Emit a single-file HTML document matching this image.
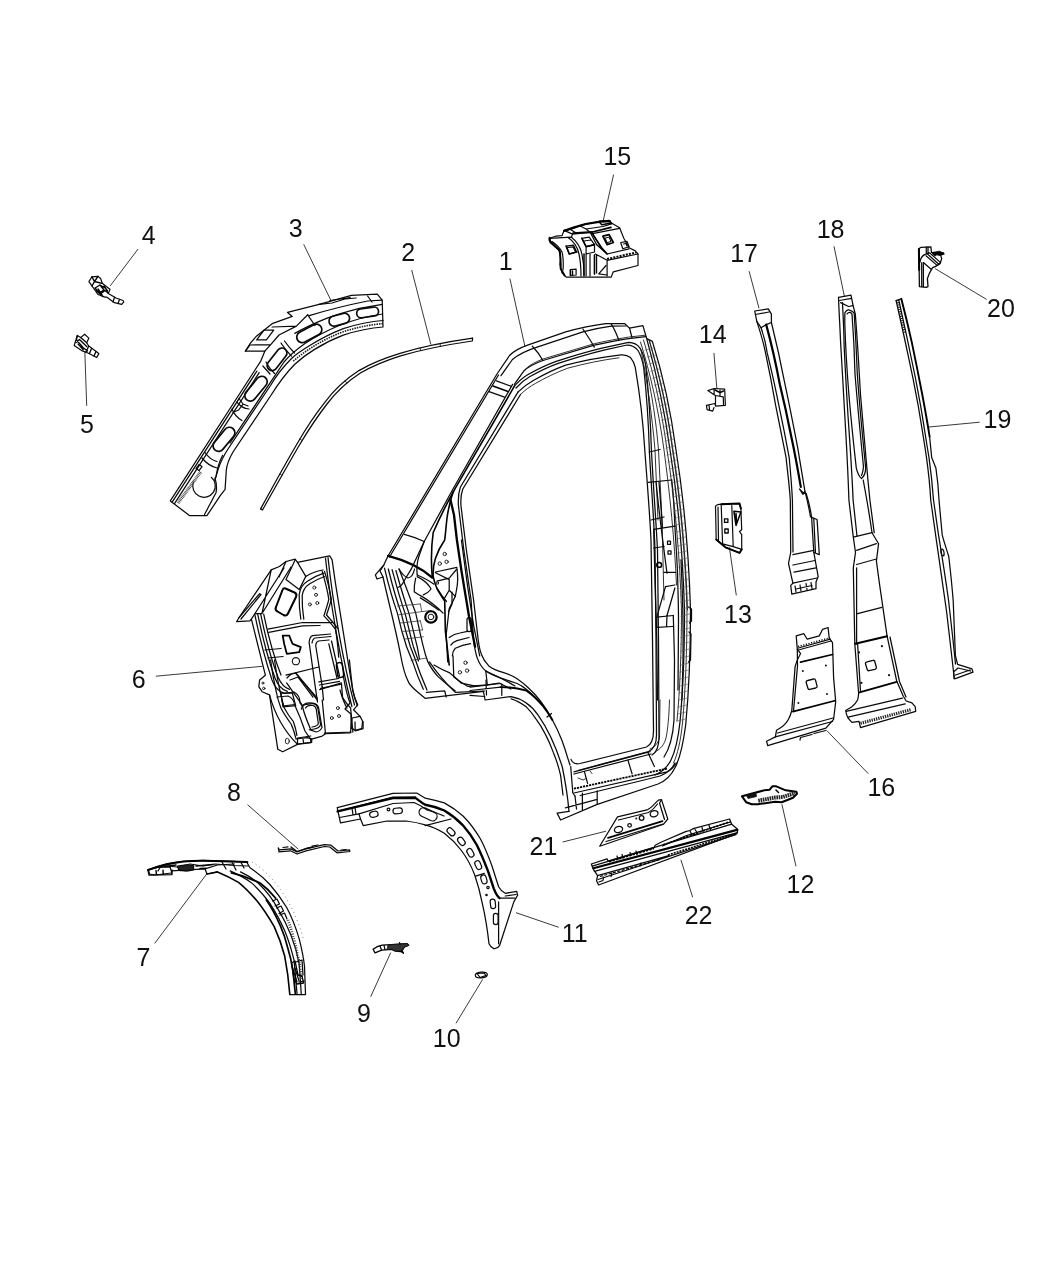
<!DOCTYPE html>
<html><head><meta charset="utf-8">
<style>
html,body{margin:0;padding:0;background:#fff;}
body{width:1050px;height:1275px;overflow:hidden;font-family:"Liberation Sans",sans-serif;}
svg{display:block;will-change:transform;}
.l{stroke:#0a0a0a;stroke-width:1.25;fill:none;stroke-linecap:round;stroke-linejoin:round;}
.t{stroke:#1a1a1a;stroke-width:0.9;fill:none;stroke-linecap:round;stroke-linejoin:round;}
.k{stroke:#000;stroke-width:1.6;fill:none;stroke-linecap:round;stroke-linejoin:round;}
.ld{stroke:#222;stroke-width:0.9;fill:none;}
text{font-family:"Liberation Sans",sans-serif;font-size:25px;fill:#111;text-anchor:middle;}
</style></head><body>
<svg width="1050" height="1275" viewBox="0 0 1050 1275">
<rect width="1050" height="1275" fill="#fff"/>
<!--LABELS-->
<g id="labels">
<text x="505.6" y="270">1</text>
<text x="408.1" y="261.4">2</text>
<text x="295.6" y="237">3</text>
<text x="148.8" y="243.5">4</text>
<text x="87" y="432.6">5</text>
<text x="138.6" y="687.7">6</text>
<text x="143.5" y="966">7</text>
<text x="233.9" y="801.3">8</text>
<text x="364" y="1021.7">9</text>
<text x="446.7" y="1047">10</text>
<text x="574.7" y="941.7">11</text>
<text x="800.5" y="893">12</text>
<text x="738" y="623.3">13</text>
<text x="712.7" y="342.5">14</text>
<text x="617.3" y="165">15</text>
<text x="881.3" y="796.4">16</text>
<text x="744.1" y="261.6">17</text>
<text x="830.6" y="238.1">18</text>
<text x="997.5" y="428.4">19</text>
<text x="1001" y="317">20</text>
<text x="543.5" y="855">21</text>
<text x="698.6" y="924">22</text>
</g>
<!--LEADERS-->
<g id="leaders" class="ld">
<path d="M509.9,278.6L524.9,346.3"/>
<path d="M411.7,270L430.9,344.6"/>
<path d="M303.7,244.3L330.7,300"/>
<path d="M138.1,249L110.2,285.9"/>
<path d="M84.8,351L86.7,405.8"/>
<path d="M155.9,676.2L262.4,666.3"/>
<path d="M154.7,943.4L206.7,874"/>
<path d="M247.5,804.7L298.3,849.2"/>
<path d="M390.7,952.7L370.7,996.7"/>
<path d="M482.7,979.3L456,1023.3"/>
<path d="M516,912.7L558.7,927.3"/>
<path d="M781.9,804.3L796,866.3"/>
<path d="M729.4,547.4L736.3,595.4"/>
<path d="M713.9,352.9L716.9,388.8"/>
<path d="M613.6,174.6L603,221.6"/>
<path d="M827.1,730.9L868.3,773.7"/>
<path d="M749.1,271.2L759,308.3"/>
<path d="M834,246.3L844.3,296"/>
<path d="M979.7,422.2L929,427"/>
<path d="M935.1,268.6L986.6,299.4"/>
<path d="M562.7,842L606,831.2"/>
<path d="M680.9,859.8L692.7,897.3"/>
</g>
<!--P1-->
<g id="p1">
<!-- outer silhouette -->
<path class="l" d="M388,556 L497,374 L509.5,355.5 C515,350 521,347.5 527.6,345.2 L565.7,331.9 C580,328 592,325.5 605.7,323.7 L624.8,323.7 L629.5,328.1 L642.9,325.6 L646.7,338.6 L652.4,341.4 C662,372 670,405 676,450 C684,500 689,560 690.5,610 C690.5,650 689,690 685.7,725 C683,745 680,758 675.4,767 C671,776 666,781 658,784 L596.6,804.6 L560.6,820 L557.1,813.1 L569,811.4"/>
<path class="l" d="M388,556 L384,564.6 L375.4,574.9 L377,579 L383,577 C388,600 396,630 401,657 C403,668 405,675 408,681 C410,687 418,692 425,698.3 L483.4,691.4 L485.1,700 L511,696.6 C524,699 532,706 538.3,715.4 C550,732 557,750 562.3,767 C566,785 568,800 569,811.4"/>
<!-- A pillar -->
<path class="l" d="M498.5,375 L389.5,557"/>
<path class="l" d="M512.6,384.4 L453,489 L424.2,541.5 L411.5,568.6"/>
<path class="k" d="M514.4,386.2 L454.8,489.1 C447,503 440,517 433.2,532.5 C431,548 431,563 432.3,577.6"/>
<path class="k" d="M388.1,555.9 C404,560 420,567 432.3,577.6" style="stroke-width:2.300"/>
<path class="l" d="M404.3,534.3 C411,536 418,538.5 424.2,541.5"/>
<path class="l" d="M489.1,391.7 L504.5,397.1 M496.4,380.8 L510.8,386.2"/>
<path class="k" d="M493,386 L508,391.5"/>
<!-- roof rail -->
<path class="l" d="M501,375.7 L512.4,359.5 C520,353 528,350 537.1,347.1 L582.9,331.9 C592,329.5 602,327.5 611.4,326.2 L626,326"/>
<path class="l" d="M514.3,384.3 L523.8,371 C529,366 536,363 542.9,360.5 L594.3,345.2 C606,342.5 617,340.5 628.6,338.6 L645.7,336.7"/>
<path class="t" d="M516,382 L525,369.5 C530,364.5 536.5,361.5 543,359 L594.3,343.7 C606,341 617,339 628.6,337.1 L645.5,335.2"/>
<path class="l" d="M532.4,346.2 C536,350 540,355 542.9,360.5 M582.9,329 C587,335 591,341 594.3,347.1 M611.4,324.3 C614.5,329 617,335 619,340.5"/>
<path class="l" d="M629.5,328.1 L632,337.5"/>
<!-- door opening seals -->
<path class="l" d="M514.3,386.2 C519,381 523,377.5 527.6,374.8 C537,369.5 546,365 556.2,361.4 C571,356.5 586,352 601.9,348.1 L628.6,342.4 C634,342.5 637.5,344.5 640,348.1 C643,353 644.5,358 645.7,365.2 C649,395 650.5,420 651.4,450 C653.5,490 656,520 657.5,550 L658.5,640 L659,737 C659,747 657,752 652,755"/>
<path class="l" d="M516,388 C520.5,383 525,379.5 529.6,376.8 C539,371.5 548,367 558.2,363.4 C573,358.5 588,354 603.9,350.1 L627,345 C632,345 635.5,347 638,350.5 C641,355.5 642.5,360.5 643.7,367.7 C647,397 648.5,422 649.4,452 C651.5,490 654,520 655,550 L656,640 L656.5,735 C656.5,744 654,749 648.5,751.5 L578,770.5"/>
<path class="l" d="M518.1,391.9 C523,387 528,383.5 533.3,380.5 C543,375 554,369.5 565.7,365.2 C583,360.5 602,357 621,354.8 C625,354.5 628,355.5 630.5,357.6 C633,360.5 634.5,363.5 635.2,367.1 C640,395 643,420 644.8,450 C647,480 649.5,510 651,540 L652.5,640 L653.5,731 C653.5,740 651.5,744.5 646.5,747 L580,763.5 C575,764.5 572.5,763 571,759.5"/>
<path class="t" d="M520.5,394.5 C525,390 530,386.5 535.3,383.5 C545,378 556,372.5 567.7,368.2 C585,363.5 602,360 619,357.8"/>
<!-- window inner left -->
<path class="l" d="M518.1,391.9 L460.3,487.3 C458.5,493 458,499 458.4,505.4 L463.9,550.5 L471.1,600 L473.5,640 C474.5,647 475.5,653 477.1,657.6 C479,663 482,667.5 485.3,670.6 C489.5,674 494.5,676 499.4,677.6 C505,679.5 511,681.5 517.1,683.5 C520.5,685 523.5,687 526.5,689.4 C531.5,693.5 537,699.5 542.9,705.9"/>
<path class="l" d="M520.5,394.5 L462.8,489 C461,494 460.5,500 461,506 L466.5,551 L473.6,600 L478.2,640 C479,646 480,651 481.8,655.3 C483.5,660 486,663 488.8,665.9 C493,669 498,671 502.9,672.4 C508,674 513,676 517.1,678.8 C521,681.5 525,684.5 528.8,688.2 C533,692 537,696.5 540.6,701.2 C545,707 549,713.5 552.4,720 C556,726.5 559,733 561.8,740 C564,746 566,752 567.6,757.6 L570,765"/>
<!-- B pillar lines -->
<path class="l" d="M646.7,338.6 C656,372 664,405 670,450 C678,500 683,560 684.5,610 C684.5,650 683,690 680,722 C678,740 675,752 671,760 C667,768 662,772 655,775"/>
<path class="t" d="M649,340 C658.500,372 666.500,405 672.500,450 C680.500,500 685.500,560 687,610 C687,650 685.500,690 682.500,723 C680.500,742 677.500,754.500 673.500,763"/>
<path class="t" d="M645.700,365.200 C652,395 656,420 658.500,450 L662,520 L664,600"/>
<path class="t" d="M641,350 C647,380 652,415 655,450 L658,520"/>
<path class="l" d="M649.400,452 L660,449.500 M651,520 L664,517"/>
<!-- sill -->
<path class="l" d="M570.700,766.500 L572.800,793 L575,796 M573.900,771.800 L650.100,751.700 M573.900,774 L651,754"/>
<path class="k" d="M573.900,788.700 L600,783 L667.100,768.600" stroke-dasharray="2.200 0.900" style="stroke-linecap:butt;stroke-width:1.800"/>
<path class="l" d="M573.900,793 L667.100,771.800 C671,770 674,767 676.500,763"/>
<path class="l" d="M565.400,807.800 L597.200,799.300 M582.400,793 L582.400,809.900 M597.200,790.800 L597.200,803.500 M575,796 L576.500,809"/>
<path class="l" d="M584.500,771.800 L587.600,783.400 M627.900,760.100 L632.100,773.900 M648,752.700 L654.400,766.500"/>
<path class="l" d="M580.200,795.500 L640,781 L660,776 C667,773.500 672,769 675,763"/>
<path class="t" d="M578,778 L583,780 L586,778.500 M590,771 L592,773.500 M650,749 C655,747 658,743 659.500,738 L660,700"/>
<path class="t" d="M655,752 C661,749 664.500,744 666,738 C668,728 669,716 669.500,700"/>
<!-- hinge pillar detail -->
<g class="l">
<path d="M384.5,568.2 C388,583 392,598 397.4,613.1 C400,625 403,636 406.6,646.7 L412.7,661.9 C416,672 419.5,681 423.3,689.3"/>
<path d="M388.3,569 C392,584 396,599 401.2,613.1 C404,625 407,636 410.4,646.7 L415.500,660 C419,671 423,681 427,690"/>
<path d="M392.1,569.7 C396,584 400,599 405,613.1 C408,625 410.500,636 413.4,646.7 L418.500,661"/>
<path d="M395.9,570.5 C400,585 404,599 408.9,613.1 C412,625 414.500,636 417.2,646.7 L419.500,659"/>
<path d="M399,569 C405,584 410.500,599 415.7,613.1 C418.500,625 420.500,636 423.3,646.7 C424.500,652 426,657 427.9,661.9 C431,668 434.500,673 438.6,677.1 C444,682 449.500,686.500 455.3,690.9"/>
<path stroke-width="0.800" stroke="#333" d="M397.500,606 L420.300,604 M399,614.700 L421.800,611.600 M400.500,623 L420.300,620.800 M402.800,631.400 L422.600,629.900 M405,639 L423.300,636.800 M411.100,660.400 L426.400,658.100"/>
<path stroke-width="0.800" stroke="#333" d="M420.300,604 L421.800,611.600 L431,610.500 M420.300,620.800 L422.600,629.900"/>
<path d="M399,569 C402,574 405,577 408,578 C411.500,577.500 413.500,574 414.500,569"/>
<path d="M417.200,575 C423,577.500 429,580.500 434,584.200 M415.700,578.100 C414.500,583 414,587.500 414.200,591.800 C416.500,593.500 419,595 421.800,596.400 C429.500,601 436.500,606.500 443.100,613.100"/>
<path d="M420.300,597.900 C426.500,601.500 432.500,605.500 438.600,610.100 M417.200,576.600 C423,579.500 428,583.500 431,588.800 C429.500,591.500 426.500,593.500 423.300,594.900"/>
<path d="M424.200,541.500 L419,556 C417,562 416.500,569 417.200,575 M411.500,568.600 L404,581 C402.500,584.500 400.500,586.500 398,587.500"/>
<path d="M435.500,572 L456.900,567.400 M437,581.100 L449.200,578.100 L456.900,569 M449.200,579.600 L449.200,590.300 L444.700,597.900 M435.500,572.800 L449.200,579.600 M449.200,590.300 L455.300,596.400 L449.200,608.600 L446.200,634.500 L447.700,661.900"/>
<path d="M452,592 L452,604 L448.500,612 M457,569 C458,576 458,583 456.500,590 L455.300,596.400"/>
<path d="M449.200,637.500 C452.500,635 456,633.500 459.900,633 L467.500,631.400 M450.800,645.100 C452.500,642.500 454.500,641.500 456.900,640.600 L469,637.500 M452.300,655.800 C452.500,652.500 453.500,650 455.300,648.200 C460,646 465,644.500 470.600,643.600"/>
<path d="M453,655.800 L453.800,677.100 C458,680.500 462.500,683.500 467.500,686.300 L487.300,684.800 L485.800,671"/>
<path d="M429.400,661.900 C437,673 446,683.500 455.300,692.400 L484.300,691 M434,665 C439,668 444,670.500 449.200,672.600 C453.500,676 457.500,679.500 461.400,683.200 L476.700,686.300"/>
<path d="M426.400,692.400 L444.700,690.900 L446.200,697"/>
<path d="M461.400,540 L467.500,585.700 L473.600,625.300 L479.700,655.800"/>
<rect x="467" y="617.500" width="4.300" height="14" rx="2"/>
<path d="M383,577 L380,571 L384,565"/>
<path d="M437,588 C440,593 443,597.500 446.500,601.500"/>
<path d="M485.800,671 C495,675 505,680 515,686 M487.300,684.800 L499,683 L510.900,689"/>
</g>
<g class="k">
<path d="M453.500,491 C450.500,499 448.500,508 447,518 C446,527 445.500,534 444.700,540 C440.500,546 437.500,552 435.500,558.300 C433.500,564.500 432.800,570.500 433.200,576.600 C434,581 435.500,585 437,588.800 C439.500,593 442,597 444.700,601 L445.400,631.400 L449.200,665"/>
<path d="M450.500,500 L454,515 L456.900,540 L461.400,570.500 L469,616.200 L475.100,646.700" stroke-width="2.300"/>
<circle cx="430.950" cy="616.950" r="5.700" stroke-width="2.200"/>
<path d="M500.6,687.1 C509,687 518,688 526.5,690.6 C533,695 538.5,700.5 542.9,705.9 C546.5,710.5 549.5,715 552.4,720" stroke-width="1.900"/>
</g>
<g class="t" style="stroke:#111">
<circle cx="430.950" cy="616.950" r="2.800" stroke-width="1"/>
<circle cx="444.700" cy="554" r="1.700"/><circle cx="439.800" cy="563.600" r="1.700"/><circle cx="446.600" cy="561.800" r="1.700"/>
<circle cx="465.500" cy="662.700" r="1.700"/><circle cx="459.900" cy="672.300" r="1.700"/><circle cx="467.100" cy="670.600" r="1.700"/>
<rect x="436.500" y="582" width="2" height="2"/>
</g>

<!-- B pillar detail -->
<g class="l">
<path d="M648.2,482.300 L671.700,480 M653.700,529.300 L674.900,526.200 M653.700,548 L664,546.500 M663.900,572.400 L675.600,572.400 M665.500,586.600 L674.900,585"/>
<path d="M656,482.300 C659,512 663,543 667,573.200 M659,482 L662.500,527.500"/>
<path d="M665.500,586.600 L656.800,617.100 M674.900,588 L667,615.500 M656.800,617.100 L673.300,615.500 M656.800,617.100 L656.800,627.300 L672.500,626.500 M667,615.500 L666.500,627"/>
<path d="M653.700,529.300 L655,580 L656.800,640 L657.500,700"/>
<path d="M674.900,526.200 C676,545 677,560 677.500,572.400 C678,590 678.500,605 678.500,620 L678,690"/>
<path d="M681,560 C682.500,590 683.500,625 683,660 L682,700"/>
<rect x="667.500" y="541" width="3" height="3.400"/><rect x="668" y="550.800" width="3" height="3.400"/>
<path d="M671.700,480 C673,490 674,505 674.900,526.200"/>
<path d="M673.300,615.500 L674.500,660 L674,720 C673,735 670,748 664,757"/>
<path d="M688.500,607 L691.500,609 L691.500,621 L689.500,623 M689,632 L691,634 L690.500,660 L688.500,662"/>
</g>
<circle class="k" cx="659.200" cy="564.900" r="2.400"/>
<g class="t">
<path d="M649.500,341 C659,373 667,406 673,450 C681,500 686,560 687.500,610"/>
<path d="M643.500,340 C653,372 661,405 667,450 C675,500 680,560 681.500,610 C681.500,650 680,690 677,721"/>
<path d="M640.500,342 C650,373 658,406 664,450 C670,495 674.500,540 676.500,585"/>
<path stroke="#555" stroke-width="0.6" d="M644.9,350.2 L653.6,348.0 M647.1,357.2 L655.8,355.0 M649.0,364.2 L657.7,362.0 M650.8,371.2 L659.5,369.0 M652.6,378.2 L661.3,376.0 M654.4,385.2 L663.1,383.0 M656.0,392.2 L664.8,390.0 M657.5,399.2 L666.2,397.0 M659.0,406.2 L667.7,404.0 M660.4,413.2 L669.1,411.0 M661.6,420.2 L670.3,418.0 M662.9,427.2 L671.6,425.0 M663.9,434.2 L672.6,432.0 M665.0,441.2 L673.7,439.0 M666.0,448.2 L674.7,446.0 M667.0,455.2 L675.7,453.0 M668.1,462.2 L676.8,460.0 M669.0,469.2 L677.7,467.0 M670.1,476.2 L678.8,474.0 M670.9,483.2 L679.6,481.0 M671.7,490.2 L680.4,488.0 M672.7,497.2 L681.4,495.0 M673.4,504.2 L682.1,502.0 M674.1,511.2 L682.8,509.0 M675.0,518.2 L683.7,516.0 M675.6,525.2 L684.3,523.0 M676.2,532.2 L684.9,530.0 M676.8,539.2 L685.5,537.0 M677.3,546.2 L686.0,544.0 M677.9,553.2 L686.6,551.0 M678.4,560.2 L687.1,558.0 M678.8,567.2 L687.5,565.0 M679.3,574.2 L688.0,572.0 M679.7,581.2 L688.4,579.0 M680.0,588.2 L688.7,586.0 M680.4,595.2 L689.1,593.0 M680.6,602.2 L689.3,600.0 M680.9,609.2 L689.6,607.0 M681.0,616.2 L689.7,614.0 M681.0,623.2 L689.7,621.0 M680.9,630.2 L689.6,628.0 M680.8,637.2 L689.5,635.0 M680.7,644.2 L689.4,642.0 M680.5,651.2 L689.2,649.0 M680.3,658.2 L689.0,656.0 M680.1,665.2 L688.8,663.0 M679.8,672.2 L688.5,670.0 M679.5,679.2 L688.2,677.0 M679.1,686.2 L687.8,684.0 M678.8,693.2 L687.5,691.0 M678.3,700.2 L687.0,698.0 M677.9,707.2 L686.6,705.0 M677.3,714.2 L686.0,712.0 M676.8,721.2 L685.5,719.0"/>
</g>
<g class="l">
<path d="M511.2,698.8 C517,700.5 522,703.5 526.5,707.1 C530,710.5 533,714.5 535.9,718.8 C539.5,723.5 542.5,728.5 545.3,734.1 C548.5,740 551,746 553.5,752.9 C556.5,760 558.800,767.500 560.6,775.3 L563,795"/>
<path d="M470,687.100 L500.600,683.500 M470,690.500 L500.600,687.100 M470,695.300 L484.700,696.500 M486,680 L486.500,695 M501.800,684 L501.800,695.300"/>
<path d="M547,717 L551.500,713.500"/>
</g>
</g>
<!--P2-->
<g id="p2">
<path class="l" d="M472.600,338.200 C446,342 421,347 400,353.400 C385,358 371,363.500 358.900,370.600 C346,379 334,390 324.600,402.600 C314,416 305,430 297.100,443.700 C284,466 272,488 260.600,508.900"/>
<path class="l" d="M472.600,338.200 L472.300,341 C446,344.800 421,349.800 400.500,355.900 C386,360.500 372.500,366 360.400,373 C348,381 336.500,391.500 327,404 C316.500,417.500 307.500,431.500 299.300,445.200 C286.200,467.500 274,489.500 262.500,510 L260.600,508.900"/>
<path class="t" d="M440,344 L440.500,346.500 M420,348 L420.700,350.700 M345,381 L347,383 M300,439 L302,440.500 M280,474 L282,475.200"/>
</g>
<!--P3-->
<g id="p3">
<g class="l">
<!-- outline -->
<path d="M170.3,500.9 L255,370 L260.6,361.4 L264.8,351.2 L245.4,351.2 L251,342.3 L256.7,335.9 L272.1,323.7 L292.3,316.4 L287.5,312.4 L319.1,304.3 L351.4,295.4 L377.3,294.2 L382.2,300.2 L383,327 C369,328 356,331 343.3,335.1 C333,339 323,344 314.2,349.6 C307,354 300.500,359 294.8,364.2 C286,373 278,384 270.5,396 L233,452 C229.500,458 227,464 226.3,470 L225.1,489.4 L220.6,495.1 L206.9,515.7 L189.7,515.7 Z"/>
<!-- parallel left lines -->
<path d="M172.150,502.100 L256.850,371.200 M174.500,503.600 L259.200,372.700"/>
<!-- inner right lines -->
<path d="M383,320.500 C369,321.500 356,324.500 343.300,328.600 C332,333 321,338.500 311,344.800 C304,349 297.500,353 291.500,358.500 C283,367 276,376 270.500,385.500 L228,449 C223.500,456 220.500,462 218.300,468.900 L214.900,480.300"/>
<path d="M382.500,314 C368,316 353,320 338,326 C326,331 315,337 305,343.500 C297,349 290,355 284,362 L230,443"/>
<!-- top bands -->
<path d="M309.300,315.600 C329,309.500 348,305 367.600,301 L382.200,300.200 M294.800,333.400 C305,327.500 316,322.500 327.200,318.100 C338,314 349,311 359.500,308.300 L382.200,304.300"/>
<path d="M307.700,314.800 L296.400,326.100 L272.100,327 M245.400,351.200 L250,345 L270.500,344.800 L264.800,351.200 M270.500,344.800 L279,335 L296.400,326.100"/>
<path d="M264,330.200 L273.700,330.200 L266.400,339.900 L256.700,339.900 Z M262,332.500 L256.700,339.900"/>
<path d="M307.700,314.800 L315,325.500 M367.600,296 L372,302"/>
<path d="M319.100,304.300 L332,303 L345,299 L356,298 M330,300.500 L350,297.500"/>
<!-- web lines between slots -->
<path d="M281,343 C284,348 287.500,352 291.500,356.100 M284.500,341 C288,346 291,349.500 294.500,353 M262.900,366 L270,374 M266,362 C268,366 271,370 274.500,373.500"/>
</g>
<g class="l" style="stroke-width:1.700">
<rect x="356.600" y="307.900" width="22" height="9" rx="4.500" transform="rotate(-8 367.600 312.400)"/>
<rect x="328.800" y="314.700" width="21" height="10" rx="5" transform="rotate(-15 339.300 319.700)"/>
<rect x="295.800" y="327.900" width="27" height="11" rx="5.500" transform="rotate(-28 309.300 333.400)"/>
<rect x="264" y="354.300" width="26" height="10" rx="5" transform="rotate(-52 277 359.300)"/>
<rect x="241.500" y="383.200" width="29" height="11" rx="5.500" transform="rotate(-50.500 256 388.700)"/>
<rect x="210" y="433.800" width="28" height="11" rx="5.500" transform="rotate(-50.500 224 439.300)"/>
</g>
<g class="t">
<path d="M383,323.700 C369,324.700 356,327.700 343.300,331.700 C332,336 322,341 312.500,347 C305.500,351.500 299,356 293,361.500" stroke-dasharray="1.500 1" stroke-width="1.600" style="stroke-linecap:butt"/>
</g>

<g class="l">
<path d="M211.300,477.300 A11.300,11.300 0 1 1 193.400,482.100"/>
<path d="M214.900,478 C216.500,483 216.800,489 216,492.700 L204.500,514.500 M216,476.700 C217,470 219,462 222.700,455.300"/>
<path d="M237,402 C240,406 244,408.500 249,409 M239,398.500 L243,404 L238.500,410 L233,412.500 M243,404 L248,406 M232,409 C234,414 237.500,418 242,420.500"/>
<path d="M205,452.500 C208,457 212,460 217,461.500 M202,458 C206,463 211,466.500 217,468"/>
<path d="M196,468.500 L199,464.500 L202,466.500 L199,470.500 Z"/>
</g>
<path class="k" d="M178,503 L201,471.500" stroke-dasharray="0.800 0.700" style="stroke-linecap:butt;stroke-width:3.200;stroke:#444"/>
</g>
<!--P4-->
<g id="p4">
<path class="l" d="M88.900,281.600 L91.900,276.800 L98,276.400 L100.600,278.500 L102.300,283.300 L106.600,286.700 L110,289.300 L108.300,293.600 L116.100,298 L123,300.500 L123.800,301.800 L121.700,304.400 L114.400,302.700 L106.600,297.100 L104.900,297.100 L98,294.500 Z" style="stroke-width:1.200"/>
<path class="k" d="M91.900,276.800 L94.500,281.500 L98,276.400 M94.500,281.500 L92,286 M94.500,281.500 L100.500,283 L102.300,283.300 M95,288 L100,285 L104,290 L99,293 Z M100,285 L106,288.500 M101,293.500 L105,290.500 L108,293 M96.500,291 L103,296.500 M104,286 L107.500,291 M98,289 L102,295" style="stroke-width:1.400"/>
<path class="l" d="M114.500,297.300 L113,302 M119.500,299.500 L118,303.500"/>
</g>
<!--P5-->
<g id="p5">
<path class="l" d="M74.200,345.400 L77.300,335.500 L80.700,337.600 L84.600,334.200 L88.900,338.100 L86.700,342.800 L88.500,345.800 L98.800,353.600 L96.700,357.500 L88.500,353.200 L81.600,350.600 Z" style="stroke-width:1.200"/>
<path class="k" d="M77.300,335.500 L76.500,340 L83,347.500 L87.500,351 M78.100,344.100 L83.300,349.700 M76,342.500 L79.500,339.500 L86.700,346.500 M80.700,337.600 L86.700,342.800 M86,352 L88.500,346.500 M89.500,353.500 L91.500,348.500 M94,356 L96,351.500" style="stroke-width:1.300"/>
</g>
<!--P6-->
<g id="p6">
<g class="l">
<path d="M236.6,621.7 L239.1,617.5 L271.2,569.8 L279.4,566.5 L286,561.5 L295.1,559.1 L297.5,562.4 L322.2,557.4 L329.7,555.8 L332.1,559.9 L335.4,582.9 L342,624.1 L348.6,665.3 L352.7,690 C354,696 355.500,700.500 357.7,704.8 L353.5,709.8 L360.1,716.4 L362.6,721.3 L361.8,728.7 L355.2,730.4 L351.1,727.9 L350.2,732.8 L325.5,733.7 L322.2,736.1 L310.7,739.4 L310.7,742.7 L297.5,744.4 L282.7,751.8 L277.8,749.3 L269.5,694.9 L262.1,691.7 L258.8,686.7 L259.6,680.1 L265.4,675.2 L262.9,665.3 L251.4,619.2 L249.8,620.8 Z"/>
<path d="M239.100,617.500 L259.600,593.700 L261,594.500 L241,619"/>
<path d="M251.400,619.200 L255,613.500 L262,613.500 L271.200,569.800 M255,613.500 L284,568 M262,613.500 L291,567"/>
<!-- left ribs -->
<path d="M254.700,614.200 C260,640 266,662 272,680 C275,688 279,692 284.400,693.300"/>
<path d="M257.700,614.200 C263,640 269,662 275,678 C278,686 282,690 287.400,691.300"/>
<path d="M260.700,614.200 C266,640 272,662 278,677 C281,684 285,688 289.500,689.300"/>
<path d="M263.700,614.200 C269,640 275,660 281,675"/>
<path d="M265,650 L281,648.500 M268,658 L283,656.500"/>
<!-- upper box -->
<path d="M286,579.600 L295.100,559.900 M286,579.600 L299.200,589.500 L305.800,576.400 L297.500,562.400 M286,561.500 L279,577"/>
<!-- arch -->
<path d="M300.800,619.200 C299.500,611 299,603 299.200,594.500 C300,588 303,584 307.400,581.300 C312,578 318,575 323.900,573.100"/>
<path d="M303.800,619.200 C302.500,611 302,603 302.200,595.500 C303,590 305.500,586.500 309.400,584 C314,581 319,578.500 324.500,576.500"/>
<path d="M305.800,576.400 C311,573 317,571 323,570"/>
<!-- horizontal bands -->
<path d="M267.900,629.100 L302.500,622.500 L332.100,622.500 M268.700,632.400 L302.500,625.800 L320,625.500"/>
<path d="M286,675.200 L318.900,667 M287,678 C290,674.500 293,673 295.900,673.500 L317.300,698.200 M290,680 L298,677 L313,697"/>
<path d="M318.900,681.800 L338.700,678.500 M320.600,688.400 L340.400,684.300 M319.500,685 L339.500,681.300"/>
<!-- right box -->
<path d="M309.100,642.200 C309.500,638.500 310.500,636.500 312.400,635.700 L330.500,634 M309.100,642.200 L315.700,690 M312,643 C312.500,640 313.500,638.500 315,638 L331,636.500 M315.700,645.500 C316,642.500 317,641.500 318.500,641 L329,640 M315.700,645.500 L322.200,686.700 M328.800,643.900 L337.100,678.500 M331.500,641 L339.500,676"/>
<path d="M315.700,690 L317.500,702 M322.200,686.700 L323.500,700"/>
<!-- right edge -->
<path d="M325.500,558.200 C330,600 340,660 351.900,706.500 M328,557.500 C332.500,600 342.500,660 354.500,705"/>
<path d="M322.200,571.400 C325,581 327.500,590 328.800,599.400 C327.500,605 325.500,610.500 323.900,615.900 C328,620 332,624.500 335.400,629.100 C337,638 338,647 338.700,657.100"/>
<path d="M324.500,571.400 C327.500,581 330,590 331.300,599.400 C330,605 328,610.500 326.500,615 C330.500,619.500 334.500,624 337.700,628.500"/>
<path d="M343.500,677 C345,686 347,695 350,703 L345,709 L351,714 L351.100,727.900 M340,690 C342,697 344,703 347,708"/>
<!-- lower -->
<path d="M284.400,693.300 L294,692 C298,694 300,698 300,703 L302.500,706.500 M277,697 L288,696 C292,697.500 294,700.500 294.500,704.500 L283,706 L282,700 M294.500,704.500 C298,712 302,722 305,731 L310.700,739.400"/>
<path d="M302.500,706.500 C304,703.500 308,702.500 312.400,703.200 C316,704 317.500,706 318,709 L320.600,724.600 C320,727 317,729 310.700,729.500 C307,721 304,713 302.500,706.500 Z"/>
<path d="M305.500,708 C307,705.500 310,705 313,705.500 C315,706 316,707.500 316.300,709.500 L318.300,723.500 C318,725.500 315.500,726.500 312,727"/>
<path d="M322.200,700 L325.500,733.700 M269.500,694.900 C275,715 283,730 297.500,744.400 M297.500,744.400 L297.500,738 L310.700,736 M351.100,727.900 L352,718 L360.100,716.400 M355.200,730.400 L355,722"/>
</g>
<g class="k">
<path d="M285.500,588.500 L294.500,592.500 C296.500,593.500 297,595 296,597 L288,613.500 C287,615.500 285.500,616 283.500,615 L277.500,611.500 C275.500,610.500 275,609 276,607 L282.500,590 C283,588.500 284,588 285.500,588.500 Z" stroke-width="2"/>
<path d="M282.700,635.700 L289.300,635.700 C290.500,639 291.500,641.500 292.600,643.900 L300.800,647.200 L299.200,652.100 L286.800,653.800 C285,648 283.500,642 282.700,635.700 Z" stroke-width="1.800"/>
<rect x="337" y="662.500" width="6" height="15" rx="3" transform="rotate(-8 340 670)" stroke-width="1.400"/>
</g>
<g class="t" style="stroke:#111">
<circle cx="295.900" cy="661.200" r="3.600" stroke-width="1.100"/>
<circle cx="314.300" cy="587.600" r="1.500"/><circle cx="316" cy="594.800" r="1.500"/><circle cx="309.900" cy="604.400" r="1.500"/><circle cx="317.300" cy="603" r="1.500"/>
<circle cx="337.900" cy="708.100" r="1.500"/><circle cx="331.800" cy="718" r="1.500"/><circle cx="339" cy="716" r="1.500"/>
<circle cx="263.800" cy="688.400" r="1.200"/><circle cx="262.900" cy="683.100" r="1"/>
<ellipse cx="287.300" cy="741.100" rx="2" ry="2.800"/>
</g>
<g class="l">
<path d="M270.600,660 C272,671 274,682 276.300,692 C277.500,698 279,703 280.900,708 C284,714 287.500,719 291.100,724 C293,728 294.500,733 295.700,737.700"/>
<path d="M274.500,660 C276,670 277.500,680 279.700,689.700 C281,696 282.500,702 284.300,708 C287,713 290,717.500 293.400,721.700 C295,726 296.200,730.500 296.900,735.400"/>
<path d="M286.600,682.900 L302.600,705.700 M295.700,672.600 L317.400,700"/>
<path d="M280.900,693.100 L292.300,693.100 L295.700,705.700 L283.100,706.900 Z"/>
<path d="M319.700,689.700 L341.400,682.900 L342.600,697.700 C345,701.500 347.500,705 350.600,708 L352.900,732 L324.300,733.100"/>
<path d="M301.400,709.100 C302,706.500 303,705 304.900,704.600 L314,703.400 C316.500,704 318,705.500 318.600,708 L322,727.400 C321,730 319,731.500 316.300,732 L309.400,729.700"/>
<path d="M295.700,738.900 L307.100,737.700 L311.700,738.900 L311.700,742.300 L296.900,744 M303,738 L303.500,743"/>
<path d="M349.400,660 C350.500,671 351.500,681 352.900,690.900 C354,696 355.500,701 357.400,705.700"/>
<path d="M363.100,721.700 L363.100,728.600 L355.100,730.900"/>
</g>
</g>
<!--P7-->
<g id="p7">
<g class="l">
<path d="M148.400,869.800 C155,867 161,865 167.200,863.500 C180,861.500 191,860.800 202.900,860.400 L234.300,861.400 L246.900,862.500 L250,867.700 C257,872.500 264,878 269.900,884.500 C276,891.500 281.500,899 286.700,907.500 C292,917.500 296,928 299.200,938.900 C301.500,948 303.500,957 304.500,966.200 L305.500,994.500 L289.800,994.500"/>
<path d="M148.400,869.800 L149.400,874 L155,875 L171.400,873 L171.400,870.900 L205,868.800 L207,874 L217.500,871.900"/>
<path d="M230.100,870.900 C237,874 244,877.500 251,882.400 C258,888.500 264,895.500 269.900,903.300 C275.500,912 280.500,921 284.600,930.600 C288.500,940 291.500,950 294,959.900 L297.100,994.500"/>
<path d="M240.500,871.900 C247,875 254,879 259.500,884.500 C266.500,891 273,899.500 278.300,909.600 C283.500,918 287.500,926.500 290.800,934.800 C294.500,944 297.500,954 299.200,964.100 L301.300,994.500"/>
<path d="M153,868.500 L165,866 L178,867 L190,864 L203,866 L215,864 L234,865.500 L248,866"/>
<path d="M158,871 L160,867.500 L170,867 L171,870 M178,867 L180,870.500 L190,870.500 L192,866 M205,868.800 L217.500,865 L234.300,864"/>
<path d="M222,862 L226,869 M232,862 L236,870 M241,862.500 L244,868"/>
<path d="M296,962 L302,960 L303,975 M299,982 L304,981"/>
<path d="M252,862 C262,868 270,876 277,885 C284,894 290,904 294.500,914 C298,922 301,930 303,938" stroke-dasharray="0.800 3.600" stroke-width="0.900" stroke="#555" style="stroke-linecap:butt"/>
</g>
<path class="k" d="M207,874 C212,873.500 215,872.500 217.500,871.900 C225,875 232,878.500 238.500,882.400 C245.500,888 251.500,894.500 257.300,901.200 C263.500,909 269,917.500 274.100,926.400 C278.500,936 282,945.500 284.600,955.700 C287,968 288.800,981 289.800,994.500"/>
<g class="k">
<path d="M148,870 C160,865.500 171,863 183.400,861.400 C194,860.500 204,860.600 214.300,860.900 L247.400,862" stroke-width="2"/>
<path d="M148,870 L149.100,875.100 L172,874.600 L172,870 M156,870.500 L156.500,874.800 M163,870.300 L163.300,874.700" stroke-width="1.400"/>
<path d="M177.700,866 L185,864.900 L193.700,865.500 L193.700,870 L186,871.100 L179,870 Z" fill="#222" stroke-width="1"/>
<path d="M165,866.500 L176,865 M196,866 L213,864.500 M200,868.500 L206.300,868.300" stroke-width="1.500"/>
<path d="M231.400,872.900 C241,875 251,878.500 260,883.100 C266,887.500 271,892.500 275.500,898" stroke-width="1.800"/>
</g>
<g class="k">
<path d="M288,920 C292,931 295,943 297.500,955 C299.500,963 300.800,971 301.500,979" stroke-width="2.800" stroke="#333" stroke-dasharray="0.900 1.500" style="stroke-linecap:butt"/>
<path d="M266.300,900 C272,908 276.500,917 280.400,925.900 C283.500,933 285.800,940 287.500,947 C290,955 291.800,963 292.900,970.600 L295.300,993.300" stroke-width="1.700"/>
<path d="M291.500,963 L295,961 L298,975 L302,976 L303.500,983 L297,984 L294,979 Z" stroke-width="1.300"/>
<path d="M292,966 L297,982 M295,968 L299,981" stroke-width="1.200"/>
<path d="M272.500,901 L277,899 L279.500,904 L275,906 M276.500,908 L281,906 L283.500,911 L279,913.500 M280,915 L284.500,913 L287,919" stroke-width="1.200"/>
</g>
</g>
<!--P8-->
<g id="p8">
<path class="l" d="M278.300,847.800 L279.300,849.900 L290.900,848.900 L297.100,852 L305.500,848.900 L324.400,844.700 L330.700,845.100 L338,851 L349.500,849.900 L349.800,851.500 L337,852.800 L329.800,847 L324.400,846.500 L306,850.800 L297.100,854 L290.400,850.800 L279,851.800 Z"/>
<path class="k" d="M291,847 L297,851.500 L306,848.500 L313,847" style="stroke-width:1.300"/>
<path class="l" d="M283,847.500 L288,846.800 M341,850 L346,849.500 M312,846 L318,845"/>
</g>
<!--P9-->
<g id="p9">
<path class="k" d="M373.100,949.300 C376,947 379,945.800 382.100,945.200 L395.500,944.300 L406.900,943.600 L408.800,945.200 L404.500,947 L402.100,950.700 L403.100,952.600 L400.500,951.500 L395.500,951.200 L391.700,949.300 L381.700,950.200 L375,952.900 Z" style="stroke-width:1.300"/>
<path d="M388,945 L395.500,944.300 L406.900,943.600 L408.800,945.200 L404.500,947 L402.100,950.700 L395.500,951.200 L391.700,949.300 L387,949.500 Z" fill="#333" stroke="#111" stroke-width="0.800"/>
<path class="k" d="M380,946 L381.500,950 M384,945.300 L385,949.700 M399.500,942.500 L400,944 M401.500,951 L403.500,953.300" style="stroke-width:1.200"/>
</g>
<!--P10-->
<g id="p10">
<ellipse class="l" cx="481.300" cy="975" rx="6" ry="2.800" transform="rotate(-5 481.300 975)"/>
<path class="k" d="M477,973.500 L484,973 L486,975.500 L480,977.500 Z" style="stroke-width:1.200"/>
</g>
<!--P11-->
<g id="p11">
<g class="l">
<path d="M337.200,807.600 L392.900,793.300 L416.700,793 C420,795 422.500,796.500 425.200,798.100 C432,799.500 438,801 444.300,802.900 C451,806.500 457.500,811 463.300,816.200 C470,823 475.500,830.500 480.500,839 C485,847.500 488.500,856.500 491.900,865.700 L498.600,886.700 C500.500,890 502.500,892 505.200,893.300 L516.700,891.400 L517.600,895.200 L513.800,901.900 L499.500,945.700 C498,948 496,949 493.800,948.600 C491.500,947.500 490,946 489,943.800 C487.500,930 485.500,917 482.400,903.800 C480.500,894 478,884.500 474.800,875.200 C471.500,866.500 467,858 461.400,850.500 C456.500,844 450.500,838 444.300,833.300 C438.500,829.500 432,826.500 425.200,824.800 C419,823 412.500,821.800 406.200,821 L387.100,821 L363.300,825.700 L360.500,819 L340.500,822.900 Z"/>
<path d="M338,811.400 L392.900,797 L415.700,796.800"/>
<path d="M339.500,817.500 L359,813.800 L360.500,819 M352,808 L353,815 M355,807.500 L356,814.500"/>
<path d="M359,813.800 L393,803.500 L414,802.500 C419,804.500 423,807 427,810 C433,811.500 439,813.500 444,816"/>
<path d="M425.200,825.700 L451,819 M475.700,876.200 L484.300,873.300 M498.600,901.900 L498.600,943.800"/>
<path d="M505.200,896 L516,894.500 M499.500,898.100 L514.800,898.100"/>
</g>
<g class="k">
<path d="M337.600,811.400 L392.900,798.100 L415.700,798.100 C419,800.500 422,803 425.200,804.800 C432,806 438.500,808 444.300,810.500 C451,814.500 457.500,819.500 463.300,825.700 C468.500,831.500 473,838 476.700,844.800 C481,853.500 484.500,862 488.100,871.400 L493.800,888.600 C495.500,893 497,896 499.500,898.100" stroke-width="2.400"/>
</g>
<g class="l" style="stroke-width:1.200">
<rect x="369.600" y="811.500" width="8.500" height="5.600" rx="2.800" transform="rotate(-12 373.800 814.300)"/>
<rect x="392.900" y="808.100" width="9.500" height="5.600" rx="2.800" transform="rotate(-5 397.600 810.900)"/>
<circle cx="388.500" cy="809.500" r="1.400"/>
<rect x="418.600" y="809.800" width="19" height="9" rx="4.500" transform="rotate(25 428.100 814.300)"/>
<rect x="446.500" y="829.100" width="9" height="5.400" rx="2.700" transform="rotate(45 451 831.800)"/>
<rect x="456.900" y="838.600" width="9" height="5.400" rx="2.700" transform="rotate(52 461.400 841.300)"/>
<rect x="465.900" y="850.100" width="9" height="5.400" rx="2.700" transform="rotate(60 470.400 852.800)"/>
<rect x="473.700" y="862.400" width="9" height="5.400" rx="2.700" transform="rotate(66 478.200 865.100)"/>
<rect x="479.400" y="876.700" width="9" height="5.400" rx="2.700" transform="rotate(74 483.900 879.400)"/>
<rect x="488.200" y="901.300" width="9.500" height="5" rx="2.500" transform="rotate(84 492.900 903.800)"/>
<rect x="490" y="916.600" width="11.400" height="4.700" rx="2.350" transform="rotate(90 495.700 919)"/>
<circle cx="488" cy="887.500" r="1.200"/><circle cx="486.500" cy="895" r="0.700"/>
</g>
</g>
<!--P12-->
<g id="p12">
<path class="k" d="M742,796.300 L764.300,790.300 L769.700,789.700 L772.300,786.300 L776.300,786.300 L785.700,790.300 L796.300,791.700 L797,793.700 L793,797.700 L781.700,802.300 L775,801.700 L757.700,804.300 L751.700,804.300 L746.300,802.300 Z" style="stroke-width:2"/>
<path class="k" d="M758.300,800.700 L775,797.500 L783,797 L795,793" stroke-dasharray="1.600 0.700" style="stroke-linecap:butt;stroke-width:4;stroke:#222"/>
<path d="M746.500,795.500 L756,793.200 L756.500,796.500 L748,798.500 Z" fill="#111" stroke="#111" stroke-width="0.800"/>
<path class="k" d="M776,790 L778.500,792.500" style="stroke-width:1.500"/>
</g>
<!--P13-->
<g id="p13">
<path class="l" d="M715.500,506.400 C716.500,504.500 718.500,504.200 721.200,504.200 L739.500,503.500 L740.900,508.500 L741.700,529.700 L739.500,531.500 L741.700,534.600 L741.700,549.400 L739.500,552.900 L725.400,547.300 L716.200,539.500 Z M721.200,505 L722.600,543.800 M731.800,505.700 L733.200,546.600 M718,507 L718.500,540 M722.600,543.800 L733.200,546.600 L741.700,549.400" style="stroke-width:1.200"/>
<path class="k" d="M733.900,511.300 L740.900,512 L736,525.400 Z M736,513.500 L736.500,522" style="stroke-width:1.500"/>
<rect class="k" x="724.500" y="518.800" width="3.400" height="3.600" style="stroke-width:1.300"/>
<rect class="k" x="724.800" y="529" width="3.400" height="4" style="stroke-width:1.300"/>
<path class="k" d="M716.200,539.500 L725.400,547.300 L739.500,552.900 L741.700,549.400 M721.200,504.200 L739.500,503.500 L740.900,508.500" style="stroke-width:1.900"/>
</g>
<!--P14-->
<g id="p14">
<path class="l" d="M707.800,390.600 L714.100,388.500 L724.700,389.200 L725.400,405.400 L715.500,406.100 L715,403.500 L706.400,405.400 L707.100,409.600 L712.700,411.100 L714,407.500 M715.500,395.500 L715.500,406.100 M715.500,395.500 L723.300,396.900 L723.500,405 M707.800,390.600 L714.100,394.800 L715.500,395.500 M714.100,388.500 L714.100,394.800 M720,389 L720,396 M709,405 L709.500,409.500" style="stroke-width:1.200"/>
<path class="k" d="M715,390 L720,392.500 L723.500,391" style="stroke-width:1.400"/>
</g>
<!--P15-->
<g id="p15">
<g class="l" style="stroke-width:1.200">
<path d="M549.400,238.300 L555.700,236.200 L562,235.700 L564.100,230.400 L570.400,229.400 L579.800,225.700 L598.700,221.500 L609.100,220.500 L612.300,223.600 L619.600,227.800 L623.800,238.300 L629.100,247.700 L635.300,250.900 L638,254 L638,265.500 L613.300,271.800 L611.200,277.100 L566.200,277.100 L562,272.900 L559.900,264.500 C560.500,260 560.500,256 559.900,251.900 C559,249.500 557.500,248 555.700,246.700 L549.400,240.400 Z"/>
<path d="M549.400,238.300 L571.400,237.200 C577,241.500 580.500,247 581.900,254 C583.500,261 584,268 584,275"/>
<path d="M552,241.500 C556.500,244.500 560,248 562,252 C563.500,258 563.500,264 563,270"/>
<path d="M568,237.500 C574,241.500 577.500,247 579,254 C580.500,261 581,268 581,276"/>
<path d="M566.200,246.100 L573.500,245.100 L576.700,251.900 L569.300,254 Z M568,247.500 L573,246.800 L575.300,251.500"/>
<path d="M570.400,269.700 L576.100,269.200 L576.100,275 L570.400,275.500 Z"/>
<path d="M564.100,230.400 L572.500,234.100 L590.300,232.500 L596.600,244.600 L605,251.900 M570.400,229.400 L577,233.500 M572.500,234.100 L571.400,237.200"/>
<path d="M581.900,238.300 L589.200,237.200 L594.500,244.600 L586.100,246.700 Z M584,241 L591,240 M586.100,246.700 L586.100,254 L594.500,252 L594.500,244.600"/>
<path d="M592.400,233.600 L619.600,228.300 M629.100,248.800 L607.100,254 L596.600,244.600 M590.300,232.500 L592.400,233.600 L601,247"/>
<path d="M620.700,242.500 L627,241.400 L629.100,246.700 L622.800,248.800 Z M623.500,244 L626,243.500 L627,246"/>
<path d="M595.500,254 L607.100,260.300 L638,254 M607.100,260.300 L607.100,276 M586.100,254 L586.100,276 M594.500,255 L594.500,273.900 M596.600,254.500 L596.600,273 M590,254 L590,276"/>
<path d="M606,265.500 L598.700,273.900 L607,275"/>
<path d="M579.800,225.700 L586,229 L603,226.500 M586,229 L590.300,232.500 M603,226.500 L612.300,223.600"/>
</g>
<g class="k">
<path d="M602.900,236.200 L609.100,234.600 L613.300,242.500 L607.100,244.600 Z" stroke-width="1.800"/>
<path d="M605.500,238 L609,237.200 L611,241.500 L607.500,242.500 Z" stroke-width="1"/>
<path d="M598.700,221.500 L609.100,220.500 L611.200,223.100 L601.800,224.700 Z" stroke-width="1.500"/>
<path d="M607.100,259 L636,252.500" stroke-width="2" stroke-dasharray="2 1.200" style="stroke-linecap:butt"/>
<path d="M549.400,238.300 L549.400,240.400 L555.700,246.700 C558,248.500 559.500,250 559.900,251.900" stroke-width="1.500"/>
</g>
<g class="k">
<path d="M564,230.900 L574.300,227.400 L585.700,224 L600.600,221.700 L609.700,221.100" stroke-width="2.200"/>
<path d="M573.100,233.100 L592.600,232 L610.900,227.400" stroke-width="1.800"/>
<path d="M549.700,237.700 L550.300,242.300 L559.400,250.300 C560.500,256 561,262 560.600,268.600 L564.600,275.400" stroke-width="1.900"/>
<path d="M592.400,233.600 L601,247 L607.100,254" stroke-width="1.600"/>
<path d="M566.200,246.100 L569.300,254 L576.700,251.900" stroke-width="1.600"/>
<path d="M581.900,238.300 L586.100,246.700 L594.500,244.600" stroke-width="1.600"/>
<path d="M570.400,269.700 L570.400,275.500 M572.500,271 L572.500,275" stroke-width="1.400"/>
<path d="M584,254 L584,276 M594.500,255 L594.500,273.900" stroke-width="1.500"/>
</g>
</g>
<!--P16-->
<g id="p16">
<g class="l">
<path d="M796.200,635.900 L803.900,633.700 L807.200,639.200 L819.300,635.900 L822.600,629.300 L828.100,627.500 L829.200,638.100 L832.500,642.500 L833.600,677.600 L835.700,701.800 L833.600,719.300 L825.900,728.100 L767.700,745.700 L766.600,741.300 L775.400,736.900 L776.500,730.300 C782,727.500 786,724 788.500,719.300 C790,716.500 791,713.500 791.800,710.500 L795.100,666.600 C796.500,661.500 798.500,657 800.600,653.500 L797.300,649.100 Z"/>
<path d="M798.400,648 L830.300,639.200 M798.400,650 L831,641 M775.400,736.900 L832.500,721.500 M777.600,733 L833,718 M797.300,649.100 L797.500,666 L793.500,711"/>
<path d="M798,646.500 L830,637.700" stroke-dasharray="1.200 1.500" stroke-width="1.400" style="stroke-linecap:butt"/>
<path d="M806.100,682.200 C806.100,681.200 806.700,680.700 807.700,680.500 L813.700,679 C814.700,678.700 815.200,679.200 815.500,680.200 L817.100,686.200 C817.200,687.200 816.700,687.700 815.700,688 L809.700,689.400 C808.700,689.700 808.200,689.200 807.900,688.200 Z" stroke-width="1.300"/>
<path d="M800,740 L800.500,737.500 L812,734.500 M814,733.500 L826,730.500"/>
</g>
<path class="k" d="M800.600,662.200 L832.500,654.500" style="stroke-width:1.700"/>
<path class="k" d="M792.900,711.600 L834.700,700.700" style="stroke-width:1.700"/>
<g fill="#111" stroke="none"><circle cx="825.900" cy="665.500" r="1"/><circle cx="802.800" cy="671" r="1"/><circle cx="827" cy="694.100" r="1"/><circle cx="798.400" cy="702.900" r="1"/></g>
</g>
<!--P17-->
<g id="p17">
<g class="l">
<path d="M754.700,311 L768.300,308.900 L771.400,314.100 L771.400,322.500 L766.200,324.600 L761,327.700 L756.800,321.400 Z M755.500,314.500 L769,312"/>
<path d="M756.800,321.400 C760,331 763,341 765.100,350.800 C769,369 772.500,387 775.600,405.200 C779,422.500 782.500,440 786.100,457.600 C787.500,472 789.500,486 790.300,500 L790.700,552.500 L788.500,563.400 L792.900,583.200 L790.700,585.400 L791.800,594.200 L816,588.700 L816,582 L818.200,576.600 L813.800,552.500"/>
<path d="M761,327.700 C764,336 766,344.500 767.200,352.900 C771.500,370.500 775.500,388 778.800,405.200 C782.500,422.500 786,440 789.200,457.600 C790.500,472 791.800,486 792.400,500 L793,552"/>
<path d="M771.400,322.500 C776.500,343 781,363.500 785,384.300 C789.500,405 793.500,426 797.600,447.100 L804.900,491.100 L802.900,494.300 L799.500,489 C802,492 804.500,494 806.100,493.200 C808.500,501 810.500,509 811.600,517.300"/>
<path d="M804.900,491.100 C807,499 809,508 810.500,517"/>
<path d="M811.600,517.300 L817.100,519.500 L819.300,554.700 L813.800,552.500 Z M813.800,519 L815.500,553"/>
<path d="M792.900,554.700 L813.800,550.300 M793,565 L815,560.500 M794,572.200 L816,567.800 M792.900,583.200 L817,578"/>
<path d="M795,586 L796,592 M800,585 L801,591 M806,583.500 L807,589.500 M811,582.500 L812,588.500 M796,589 L812,585.500"/>
</g>
<path class="k" d="M766.200,324.600 C771.500,344 776,364 779.800,384.300 C784,401.500 787.800,419 791.300,436.700 C795,453.500 798,470.500 800.800,486.900" style="stroke-width:2.200"/>
</g>
<!--P18-->
<g id="p18">
<g class="l">
<path d="M838.500,297.300 L851,295.200 L853.100,305.700 L848.500,306.500 L840.600,302.600 M839.500,300.500 L851.500,298.300"/>
<path d="M838.500,297.300 C839,312 840,327 840.600,342.400 C842,367 843.500,391 844.800,415.700 C846.500,444 848,472 848.900,500 L853.300,537.100 L855.500,552.500 L853.300,567.800 L854.800,643.800 L858.600,693.300 C858.500,696 858.200,698 857.600,700 C856,703 854,705 851.900,706.700 L845.700,710.500 C846,713 846.700,715 847.600,717.100 C849,719.500 850.500,721 851.900,722.400 L859,721.400 L860.500,727.600 L915.700,711.400 L915.200,706.700 L911.900,702.900 L906.200,701 L903.300,696.200 L896.700,681 L887.100,636.200 L879.700,585.400 L876.400,561.200 L878.600,543.700 L872,532.700 L853.300,537.100"/>
<path d="M842.500,302.600 C843,316 844,329 844,342.400 C845,367 846.500,391 848,415.700 C850,444 852,472 853.100,500 L857,536"/>
<path d="M853.100,305.700 L855.300,314 C857.500,341 859,368 860.500,394.800 C863,423 865.500,451 867.800,478.600 L869.900,500 L874.200,532.700"/>
<path d="M872,532.700 C869.500,515 866.500,497.500 863.200,480"/>
<path d="M844.800,313 C846,310.500 847.500,309.500 848.900,309.900 C851,310.500 853,311.500 854.200,313 C855.500,333 856.500,353 857.300,373.800 C859.500,405 862.500,436.500 865.700,468.100 C865.500,473 864,476.500 861.500,478.600 C859,476.500 857.500,473 856.300,468.100 C853.500,443.500 851,419 848.900,394.800 C847,371 845.500,347 844.800,323.500 Z"/>
<path d="M847,314 C848,312.500 849,312 850.500,312.500 L852,314 C853.500,334 854.500,354 855,374 C857.500,405 860.500,436 863.500,467 C863,471 862.500,473.500 861.500,475.500"/>
<path d="M856.600,550.300 L876.400,543.700 M856.600,564.500 L876.400,559 M856.600,613.900 L881.900,607.300 M856.600,567.800 L856.600,644"/>
<path d="M865.400,663.500 C865.400,662.500 866,662 867,661.800 L873,660.300 C874,660 874.500,660.500 874.800,661.500 L876.400,667.500 C876.500,668.500 876,669 875,669.300 L869,670.700 C868,671 867.500,670.500 867.200,669.500 Z" stroke-width="1.300"/>
<path d="M846.200,711.400 L902.400,698.100 M848.100,717.100 L905.200,703.800 M890,637 L899.500,681.500 L906,697"/>
<path d="M860.500,723.300 L911.500,709.500" stroke-dasharray="1.300 1" stroke-width="3.200" stroke="#222" style="stroke-linecap:butt"/>
<path d="M857.600,643.800 L860.500,691.400"/>
</g>
<path class="k" d="M859.500,692.400 L896.700,681.900" style="stroke-width:2"/>
<path class="k" d="M855.200,643.800 L887.100,636.200" style="stroke-width:2"/>
<g fill="#111" stroke="none"><circle cx="881.900" cy="646.200" r="1.100"/><circle cx="859" cy="652.400" r="1.100"/><circle cx="889" cy="675.200" r="1.100"/><circle cx="861.400" cy="682.900" r="1.100"/></g>
</g>
<!--P19-->
<g id="p19">
<g class="l">
<path d="M896.100,300.500 L901.300,298.800"/>
<path d="M896.100,300.500 C900,318 904,335.500 907.600,352.900 C911.500,370.500 915,388 918.100,405.200 C921,422.500 924,440 926.500,457.600 C928.500,472 930,486 930.700,500 L935.600,534.900 L946.600,611.700 L953.200,668.800 L954.300,678.700 L955.400,678.700 L973,672.100 L971.900,668.800 L957.600,664.400 L955.400,655.600 L953.200,600.800 C952,586 950.500,571.500 948.800,556.800 C946.500,549 944,542 942.200,534.900 L939,500 C938.500,489 937.500,478.500 935.900,468.100 L931.700,457.600 L929.600,436.700"/>
<path d="M898.700,299.700 C902.500,317 906.500,334.500 910,352 C914,370 917.500,388 920.500,405.200 C923.500,422.500 926,440 929,457.600 C931,472 932.500,486 933.500,500 L938.500,534.900 C942,556 945.500,578 948.500,600 L953,640 L955.500,664"/>
<path d="M954.300,678.700 L953.500,672 L958,668 L970.500,671 M955.500,675 L970,670"/>
<ellipse cx="942.500" cy="552.500" rx="1.500" ry="3.500" transform="rotate(-10 942.500 552.500)"/>
</g>
<path class="k" d="M901.300,298.800 C905,313 908.500,327.500 911.800,342.400 C915.500,360 919,377.500 922.300,394.800 C925,409 927.500,423 929.600,436.700" style="stroke-width:1.900"/>
<path class="l" d="M897.400,300.100 C899.500,310 902,321 905,333" stroke-dasharray="1 1.300" style="stroke-linecap:butt;stroke-width:2.200"/>
</g>
<!--P20-->
<g id="p20">
<path class="l" d="M918.900,248.900 C919.500,248 920.200,247.600 921.100,247.400 L930.900,246.900 L931.400,252.300 L935.400,252.600 L943.400,252.900 L944,254 L940.600,255.100 L941.700,258.600 L940,263.700 C937.500,265.500 935,266.800 932.600,267.700 C930.500,271 928.500,274.500 927.400,278.600 L928,286.600 L926.300,287.400 L919.400,286.600 Z" style="stroke-width:1.300"/>
<path class="l" d="M921.700,262.600 L921.700,286.600 M923.400,263.100 L923.400,286.800 M920,262 C920.500,258.500 922,256 924.600,254.600 L929.700,252.900 L940.600,262.600 L937.100,265.400 L926,255.800 M923.400,262.600 L931.400,269.400 M926.300,247.100 L926.300,254 M928,247 L928,253.500 M927.500,254 L938.500,264"/>
<path d="M932,252.500 L939.500,251.200 L944,253.500 L940,255.500 L936.500,254.800 L935.500,256 L933,254.500 Z" fill="#000" stroke="#000" stroke-width="0.800"/>
<path class="k" d="M918.900,248.900 L919.200,270" style="stroke-width:2"/>
</g>
<!--P21-->
<g id="p21">
<path class="l" d="M599.700,846.200 L617.500,816.900 L647.900,809.600 C651,807.500 653.500,805.500 654.100,804.300 L658.300,800.100 L661.500,799.700 L667.800,819 L663.600,824.200 Z" style="stroke-width:1.200"/>
<path class="l" d="M618.500,820 L648.500,812.500 C652,810.500 655,807.500 657.500,804 M661.500,799.700 L659.500,803 L664.500,819.500"/>
<path class="k" d="M608,837.900 L662.500,821.100" style="stroke-width:1.700"/>
<path class="l" d="M606,841.500 L663,824"/>
<ellipse class="l" cx="618.500" cy="829.500" rx="4.200" ry="3" transform="rotate(-18 618.500 829.500)" style="stroke-width:1.300"/>
<ellipse class="l" cx="654.100" cy="813.800" rx="4" ry="3" transform="rotate(-18 654.100 813.800)" style="stroke-width:1.300"/>
<circle class="l" cx="629.600" cy="825.300" r="1.800"/><circle class="l" cx="641.600" cy="818" r="2.300" style="stroke-width:1.300"/>
<circle cx="636.300" cy="818.500" r="1" fill="#111"/>
</g>
<!--P22-->
<g id="p22">
<g class="l">
<path d="M591.300,864 L607,858.800 L608,861 L654.100,847.300 L655.200,845.200 L661.500,842 L685.600,831.600 L689.800,830.500 L694,828.400 L729.600,819 L731.700,824.200 L737.900,829.500 L736.900,833.700 L598.600,885 L596.500,880.800 L597.600,875.600 L593.400,869.300 Z"/>
<path d="M592.300,866.100 L731.700,824.200 M594.400,871.400 L737.500,832.600 M597.600,875.600 L668.800,855.700 M598,879.500 L735.800,834.700"/>
<path d="M662.500,846 L686.500,835.500 L730.500,822"/>
<path d="M617,856 L618,859.500 M622,854.500 L623,858 M630,852.500 L631,855.500 M636,851 L637,854.500 M690,831 L692,835 M695,829.500 L698,834 M702,827.500 L703,831.500 M709,825.500 L710.500,829.500 M692,835 L698,834"/>
<path d="M599,882 L603,880.500 L603.500,877 M611,876.500 L612,873 M640,866 L641,863"/>
</g>
<g class="k">
<path d="M593.400,868.200 L736.900,829.900" stroke-width="2.200"/>
<path d="M668,855 L736.500,833.300" stroke-width="1.600" stroke-dasharray="2 1" style="stroke-linecap:butt"/>
<path d="M609,861.800 L654,848.500" stroke-width="1.600" stroke-dasharray="2.500 1" style="stroke-linecap:butt"/>
<path d="M663,844.800 L729.500,821.800" stroke-width="1.500" stroke-dasharray="2.500 1" style="stroke-linecap:butt"/>
<path d="M600,876.500 L660,859.500" stroke-width="1.200" stroke-dasharray="3 1.500" style="stroke-linecap:butt"/>
</g>
</g>
</svg>
</body></html>
